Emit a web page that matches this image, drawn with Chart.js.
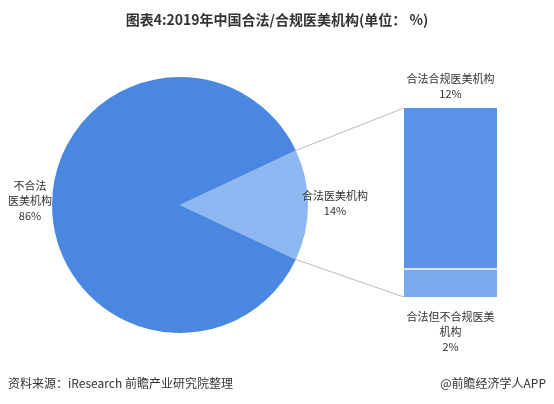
<!DOCTYPE html><html><head><meta charset="utf-8">
<script src="https://cdn.jsdelivr.net/npm/chart.js@4"></script>
<style>body{margin:0;width:554px;height:404px;background:#fff;font-family:"Noto Sans CJK SC",sans-serif;position:relative;overflow:hidden}
canvas{position:absolute;left:0;top:0}
.t{position:absolute;font-size:11px;color:#333;text-align:center;line-height:15px;white-space:nowrap}</style></head><body>
<canvas id="p" width="554" height="404"></canvas><canvas id="b" width="554" height="404"></canvas>
<div class="t" style="left:0;width:554px;top:12px;font-size:14px;font-weight:bold;color:#333">图表4:2019年中国合法/合规医美机构(单位： %)</div>
<div class="t" style="left:0;top:375px;font-size:12px;left:8px">资料来源：iResearch 前瞻产业研究院整理</div>
<div class="t" style="right:8px;top:375px;font-size:12px">@前瞻经济学人APP</div>
<script>
const pieLabels=["合法医美机构","不合法医美机构"];
const pieValues=[14,86];
const barLabels=["合法但不合规医美机构","合法合规医美机构"];
const barValues=[2,12];
const pieColors=["#8db8f2","#4a87e1"];
const barColors=["#79a9ee","#5a93e7"];
function txt(ctx,lines,x,y){ctx.save();ctx.font='11px "Noto Sans CJK SC"';ctx.fillStyle='#333';ctx.textAlign='center';ctx.textBaseline='middle';lines.forEach((l,i)=>ctx.fillText(l,x,y+i*15));ctx.restore();}
const pie=new Chart(document.getElementById('p'),{type:'pie',data:{labels:pieLabels,datasets:[{data:pieValues,backgroundColor:pieColors,borderWidth:0}]},
options:{responsive:false,animation:false,rotation:90-pieValues[0]/100*180,layout:{padding:{left:52,right:246,top:77,bottom:71}},plugins:{legend:{display:false},tooltip:{enabled:false}}},
plugins:[{id:'l',afterDraw(c){const ctx=c.ctx;txt(ctx,[pieLabels[0],pieValues[0]+'%'],335,196);txt(ctx,['不合法','医美机构',pieValues[1]+'%'],30,186);}}]});
new Chart(document.getElementById('b'),{type:'bar',data:{labels:['x'],datasets:[{data:[barValues[0]],backgroundColor:barColors[0],borderWidth:0},{data:[barValues[1]],backgroundColor:barColors[1],borderColor:'#fff',borderWidth:{bottom:2},borderSkipped:false}]},
options:{responsive:false,animation:false,layout:{padding:{left:404,right:57,top:108,bottom:107}},datasets:{bar:{barPercentage:1,categoryPercentage:1}},
scales:{x:{display:false,stacked:true},y:{display:false,stacked:true,min:0,max:14}},plugins:{legend:{display:false},tooltip:{enabled:false}}},
plugins:[{id:'c',afterDraw(c){const ctx=c.ctx,a=pie.getDatasetMeta(0).data[0];const ca=c.chartArea;
const p1=[a.x+a.outerRadius*Math.cos(a.startAngle),a.y+a.outerRadius*Math.sin(a.startAngle)];
const p2=[a.x+a.outerRadius*Math.cos(a.endAngle),a.y+a.outerRadius*Math.sin(a.endAngle)];
ctx.save();ctx.strokeStyle='#bbb';ctx.lineWidth=1;ctx.beginPath();ctx.moveTo(p1[0],p1[1]);ctx.lineTo(ca.left,ca.top);ctx.moveTo(p2[0],p2[1]);ctx.lineTo(ca.left,ca.bottom);ctx.stroke();ctx.restore();
const cx=(ca.left+ca.right)/2;txt(ctx,[barLabels[1],barValues[1]+'%'],cx,79);txt(ctx,['合法但不合规医美','机构',barValues[0]+'%'],cx,317);}}]});
</script></body></html>
